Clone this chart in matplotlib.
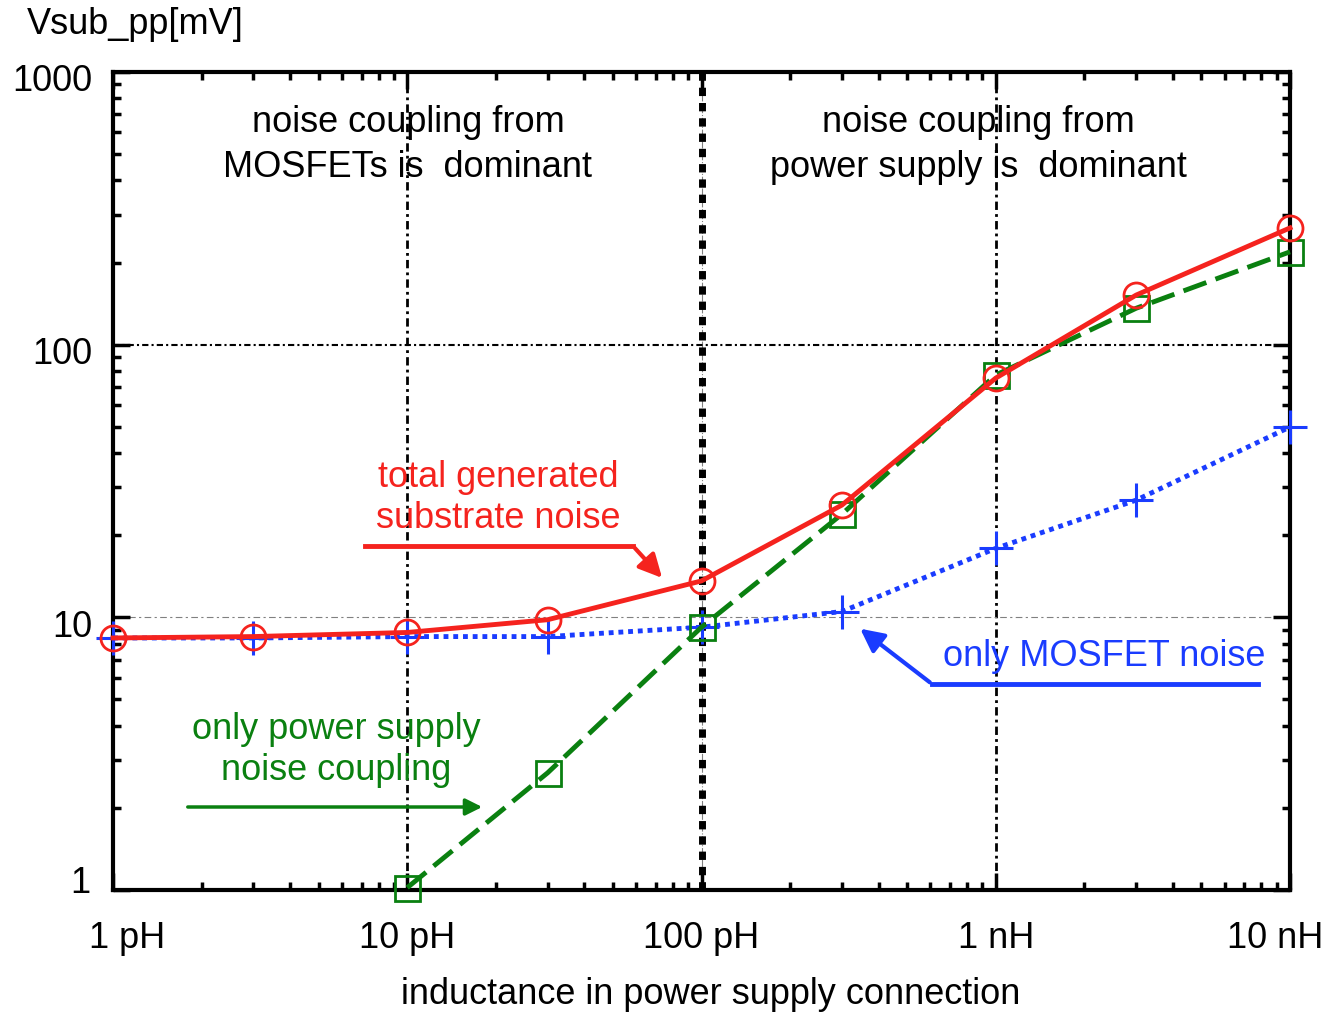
import matplotlib
matplotlib.use("Agg")
import matplotlib.pyplot as plt
import matplotlib.transforms as mtransforms
import numpy as np

plt.rcParams['font.family'] = ['Liberation Sans', 'DejaVu Sans']

# inductance (H) at the measured points
inductance = [1e-12, 3e-12, 1e-11, 3e-11, 1e-10, 3e-10, 1e-9, 3e-9, 1e-8]
# total generated substrate noise [mV]
total_noise = [8.4, 8.5, 8.8, 9.8, 13.6, 25.8, 75.4, 152, 268]
# only power supply noise coupling [mV] (starts at 10 pH)
supply_L = [1e-11, 3e-11, 1e-10, 3e-10, 1e-9, 3e-9, 1e-8]
supply_noise = [1.02, 2.69, 9.2, 23.9, 77.4, 136, 219]
# only MOSFET noise [mV]
mosfet_noise = [8.4, 8.4, 8.5, 8.5, 9.2, 10.5, 17.9, 26.9, 49.9]

xticks = [1e-12, 1e-11, 1e-10, 1e-9, 1e-8]
xtick_labels = ['1 pH', '10 pH', '100 pH', '1 nH', '10 nH']
yticks = [1, 10, 100, 1000]
ytick_labels = ['1', '10', '100', '1000']

FS = 26

fig = plt.figure(figsize=(13.31, 10.14), dpi=100)
ax = fig.add_axes([0.0849, 0.1223, 0.8843, 0.8067])
ax.set_xscale('log')
ax.set_yscale('log')
ax.set_xlim(1e-12, 1e-8)
ax.set_ylim(1, 1000)

# grid-like reference lines
ax.axvline(1e-11, color='black', lw=2, ls=(0, (3, 1.5, 1, 1.5)), zorder=1)
ax.axvline(1e-9, color='black', lw=2, ls=(0, (3, 1.5, 1, 1.5)), zorder=1)
ax.axvline(1e-10, color='gray', lw=0.8, ls='-.', zorder=1)
ax.axvline(1e-10, color='black', lw=5, ls=(0, (1.2, 1.0)), zorder=1)
ax.axhline(100, color='black', lw=1.5, ls=(0, (3, 1.5, 1, 1.5)), zorder=1)
ax.axhline(10, color='gray', lw=0.8, ls=(0, (6, 3, 2, 3)), zorder=1)

ax.plot(inductance, mosfet_noise, color='#1a3cff', lw=3.5, ls=(0, (1, 1)),
        marker='+', ms=24, mew=2.2, zorder=3, clip_on=False)
ax.plot(supply_L, supply_noise, color='#0a8010', lw=3.5, ls=(0, (5, 2)),
        marker='s', ms=18, mew=2, mfc='none', zorder=4, clip_on=False)
ax.plot(inductance, total_noise, color='#f5231e', lw=3.5, ls='-',
        marker='o', ms=18, mew=2, mfc='none', zorder=5, clip_on=False)

ax.set_xticks(xticks)
ax.set_xticklabels(xtick_labels, fontsize=FS)
ax.set_yticks(yticks)
ax.set_yticklabels(ytick_labels, fontsize=FS)
ax.tick_params(which='both', direction='in', top=True, right=True, width=2.5)
ax.tick_params(which='major', length=12)
ax.tick_params(axis='x', which='major', pad=22)
ax.tick_params(axis='y', which='major', pad=14.5)
ax.tick_params(which='minor', length=6)
for s in ax.spines.values():
    s.set_linewidth(3)

# nudge end labels like the original
xl = ax.get_xticklabels()
xl[0].set_transform(xl[0].get_transform() + mtransforms.ScaledTranslation(14 / 100, 0, fig.dpi_scale_trans))
xl[-1].set_transform(xl[-1].get_transform() + mtransforms.ScaledTranslation(-15 / 100, 0, fig.dpi_scale_trans))
yl = ax.get_yticklabels()
yl[0].set_transform(yl[0].get_transform() + mtransforms.ScaledTranslation(-2 / 100, 10 / 100, fig.dpi_scale_trans))
for lab in yl[1:]:
    lab.set_transform(lab.get_transform() + mtransforms.ScaledTranslation(0, -6 / 100, fig.dpi_scale_trans))

fig.text(711 / 1331, 1 - 995 / 1014, 'inductance in power supply connection', fontsize=FS,
         ha='center', va='center')
fig.text(0.02, 1 - 24 / 1014, 'Vsub_pp[mV]', fontsize=FS, ha='left', va='center')

# region labels
fig.text(408 / 1331, 1 - 145 / 1014, 'noise coupling from\nMOSFETs is  dominant',
         ha='center', va='center', fontsize=FS, linespacing=1.4)
fig.text(978 / 1331, 1 - 145 / 1014, 'noise coupling from\npower supply is  dominant',
         ha='center', va='center', fontsize=FS, linespacing=1.4)

# annotations
fig.text(498 / 1331, 1 - 498 / 1014, 'total generated\nsubstrate noise', color='#f5231e',
         ha='center', va='center', fontsize=FS, linespacing=1.2)
fig.add_artist(plt.Line2D([365 / 1331, 633 / 1331], [1 - 546 / 1014, 1 - 546 / 1014],
                          color='#f5231e', lw=3.5))
fig.add_artist(matplotlib.patches.FancyArrowPatch((633 / 1331, 1 - 546 / 1014), (664 / 1331, 1 - 580 / 1014),
               transform=fig.transFigure, arrowstyle='-|>', mutation_scale=35, color='#f5231e', lw=3))

fig.text(1104 / 1331, 1 - 656 / 1014, 'only MOSFET noise', color='#1a3cff',
         ha='center', va='center', fontsize=FS)
fig.add_artist(plt.Line2D([932 / 1331, 1258 / 1331], [1 - 684 / 1014, 1 - 684 / 1014],
                          color='#1a3cff', lw=3.5))
fig.add_artist(matplotlib.patches.FancyArrowPatch((932 / 1331, 1 - 684 / 1014), (858 / 1331, 1 - 627 / 1014),
               transform=fig.transFigure, arrowstyle='-|>', mutation_scale=35, color='#1a3cff', lw=3))

fig.text(336 / 1331, 1 - 750 / 1014, 'only power supply\nnoise coupling', color='#0a8010',
         ha='center', va='center', fontsize=FS, linespacing=1.2)
fig.add_artist(matplotlib.patches.FancyArrowPatch((185 / 1331, 1 - 807 / 1014), (485 / 1331, 1 - 807 / 1014),
               transform=fig.transFigure, arrowstyle='-|>', mutation_scale=25, color='#0a8010', lw=2.5))

fig.savefig('out.png', dpi=100)
